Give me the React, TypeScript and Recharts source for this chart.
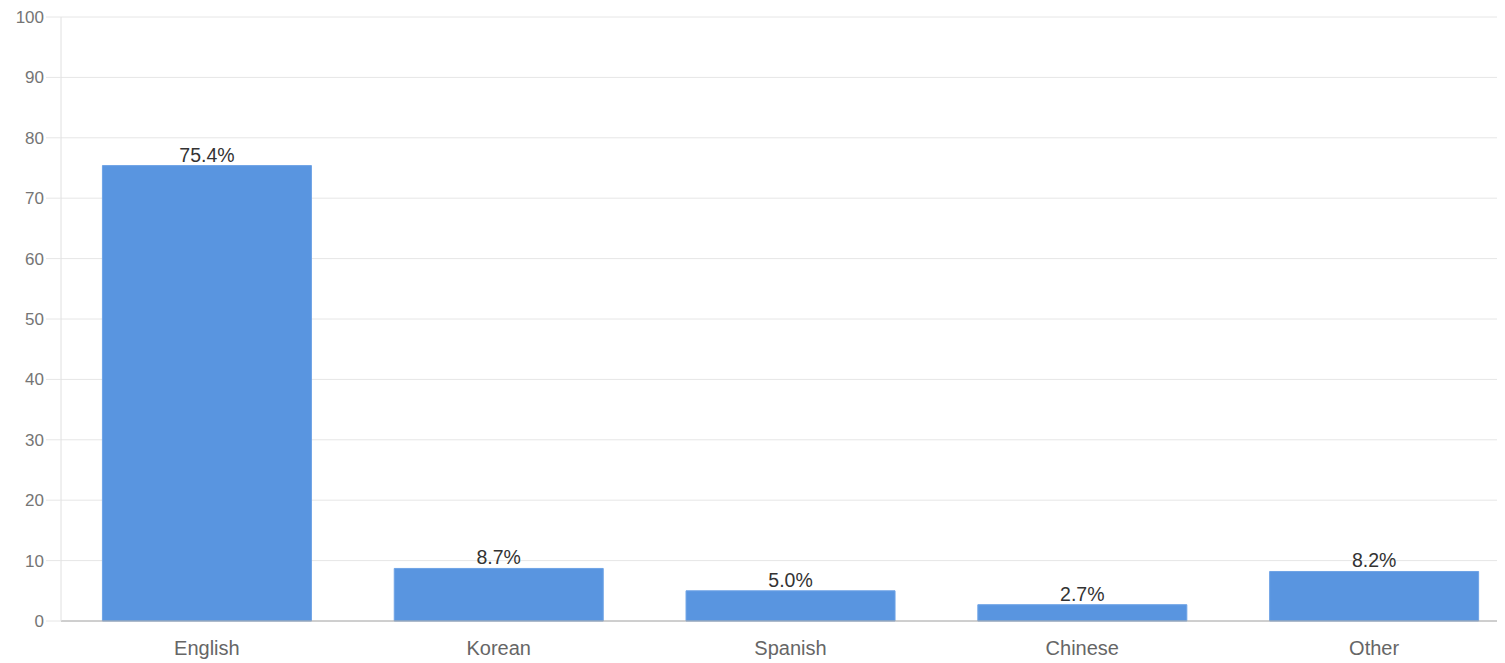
import React from "react";
import { BarChart, Bar, XAxis, YAxis, CartesianGrid, LabelList } from "recharts";

const categories = ["English", "Korean", "Spanish", "Chinese", "Other"];
const shares = [75.4, 8.7, 5.0, 2.7, 8.2];
const yTicks = [0, 10, 20, 30, 40, 50, 60, 70, 80, 90, 100];

const data = categories.map((name, i) => ({ name, value: shares[i] }));

const FONT = "'Liberation Sans', Arial, sans-serif";

export default function App() {
  return (
    <div style={{ width: 1497, height: 655, overflow: "hidden", fontFamily: FONT }}>
      <BarChart
        width={1514}
        height={655}
        data={data}
        margin={{ top: 9, right: 2, bottom: 0, left: 0 }}
        barCategoryGap="14.2%"
      >
        <CartesianGrid vertical={false} stroke="#e6e6e6" />
        <XAxis
          dataKey="name"
          height={42}
          tickLine={false}
          axisLine={{ stroke: "#aaaaaa" }}
          tickMargin={14}
          tick={{ fill: "#666666", fontSize: 20, fontFamily: FONT }}
        />
        <YAxis
          width={53}
          domain={[0, 100]}
          ticks={yTicks}
          interval={0}
          axisLine={{ stroke: "#e0e0e0" }}
          tickLine={{ stroke: "#e6e6e6" }}
          tickSize={15}
          tickMargin={2}
          tick={{ fill: "#757575", fontSize: 17, fontFamily: FONT }}
        />
        <Bar dataKey="value" fill="#5995e0" stroke="#6ea3e6" strokeWidth={1} isAnimationActive={false}>
          <LabelList
            dataKey="value"
            position="top"
            offset={4}
            formatter={(v: number) => `${v.toFixed(1)}%`}
            style={{ fill: "#333333", fontSize: 19.5, fontFamily: FONT }}
          />
        </Bar>
      </BarChart>
    </div>
  );
}
